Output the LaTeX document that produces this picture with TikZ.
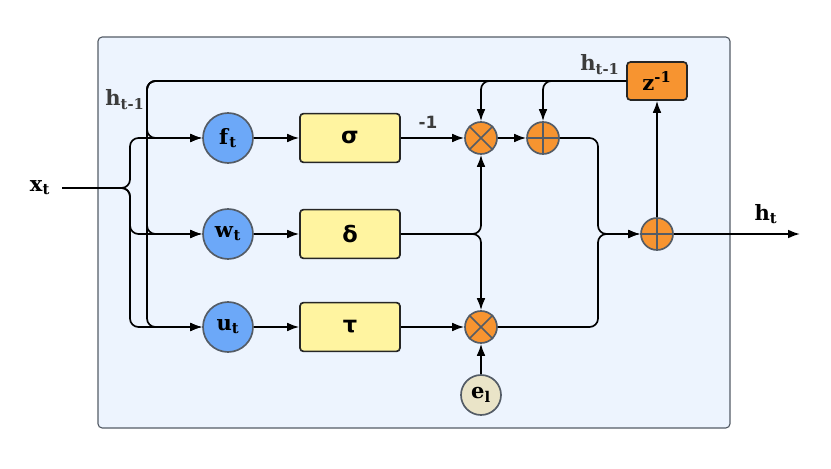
\documentclass[tikz,border=0pt]{standalone}
\usepackage{fontspec}
\setmainfont{DejaVu Serif}
\newfontfamily\gksans{DejaVu Sans}
\usetikzlibrary{arrows.meta,positioning}
\definecolor{gtframe}{RGB}{237,244,254}
\definecolor{gtedge}{RGB}{84,92,102}
\definecolor{gtblue}{RGB}{108,168,248}
\definecolor{gtyellow}{RGB}{255,244,160}
\definecolor{gtorange}{RGB}{247,148,48}
\definecolor{gtbeige}{RGB}{234,228,200}
\definecolor{gtink}{RGB}{60,60,60}
\newcommand{\gtsub}[2]{\textbf{#1}\textsubscript{\textbf{#2}}}
\tikzset{
  gtgate/.style={circle, draw=gtedge, fill=gtblue, line width=1.2pt,
    minimum size=1.25cm, inner sep=0pt, font=\fontsize{15}{17}\selectfont},
  gtbox/.style={draw=black!85, fill=gtyellow, rounded corners=2.5pt, line width=1.2pt,
    minimum width=2.5cm, minimum height=1.22cm, font=\gksans\bfseries\fontsize{16}{18}\selectfont},
  gtop/.style={circle, draw=gtedge, fill=gtorange, line width=1.2pt,
    minimum size=0.8cm, inner sep=0pt},
  gtlabel/.style={text=gtink, font=\fontsize{15}{17}\selectfont},
  gtarrow/.style={-{Latex[length=3mm,width=2.2mm]}, line width=1.2pt, rounded corners=6pt},
  gtline/.style={line width=1.2pt, rounded corners=6pt}
}

\begin{document}
\begin{tikzpicture}
  \useasboundingbox (0,0) rectangle (20.775,-11.725);
  \draw[gtedge, fill=gtframe, rounded corners=3pt, line width=0.8pt] (2.45,-0.925) rectangle (18.25,-10.7);
  % gates and blocks
  \node[gtgate] (gf) at (5.70,-3.45) {\gtsub{f}{t}};
  \node[gtgate] (gw) at (5.70,-5.85) {\gtsub{w}{t}};
  \node[gtgate] (gu) at (5.70,-8.175) {\gtsub{u}{t}};
  \node[gtbox] (bs) at (8.75,-3.45) {σ};
  \node[gtbox] (bd) at (8.75,-5.85) {δ};
  \node[gtbox] (bt) at (8.75,-8.175) {τ};
  \node[gtop] (m1) at (12.025,-3.45) {};
  \node[gtop] (a1) at (13.575,-3.45) {};
  \node[gtop] (m2) at (12.025,-8.175) {};
  \node[gtop] (af) at (16.425,-5.85) {};
  \node[circle, draw=gtedge, fill=gtbeige, line width=1.2pt, minimum size=1.0cm, inner sep=0pt,
    font=\fontsize{15}{17}\selectfont] (el) at (12.025,-9.875) {\gtsub{e}{l}};
  \node[draw=black!85, fill=gtorange, rounded corners=2.5pt, line width=1.2pt,
    minimum width=1.5cm, minimum height=0.95cm, font=\fontsize{15}{17}\selectfont] (dz) at (16.425,-2.025)
    {\textbf{z}\textsuperscript{\textbf{-1}}};
  \foreach \m in {m1,m2} {
    \draw[gtedge, line width=1.2pt] (\m.north east) -- (\m.south west) (\m.north west) -- (\m.south east);
  }
  \foreach \a in {a1,af} {
    \draw[gtedge, line width=1.2pt] (\a.north) -- (\a.south) (\a.west) -- (\a.east);
  }
  % labels
  \node[font=\fontsize{15}{17}\selectfont] (xin) at (1.0,-4.7) {\gtsub{x}{t}};
  \node[gtlabel] (lh1) at (3.125,-2.5) {\gtsub{h}{t-1}};
  \node[gtlabel] (lh2) at (15.0,-1.62) {\gtsub{h}{t-1}};
  \node[font=\fontsize{15}{17}\selectfont] (lht) at (19.15,-5.35) {\gtsub{h}{t}};
  \node[gtlabel, font=\gksans\bfseries\fontsize{12}{14}\selectfont] (lm) at (10.7,-3.05) {-1};
  \coordinate (xs) at (1.55,-4.7);
  \coordinate (hout) at (20.0,-5.85);
  % input x_t
  \draw[gtarrow] (xs) -- (3.25,-4.7) -- (3.25,-3.45) -- (gf);
  \draw[gtarrow] (xs) -- (3.25,-4.7) -- (3.25,-5.85) -- (gw);
  \draw[gtarrow] (xs) -- (3.25,-4.7) -- (3.25,-8.175) -- (gu);
  % feedback h_{t-1}
  \draw[gtarrow] (dz.west) -- (3.675,-2.025) -- (3.675,-3.45) -- (gf);
  \draw[gtarrow] (dz.west) -- (3.675,-2.025) -- (3.675,-5.85) -- (gw);
  \draw[gtarrow] (dz.west) -- (3.675,-2.025) -- (3.675,-8.175) -- (gu);
  \draw[gtarrow] (dz.west) -- (12.025,-2.025) -- (m1);
  \draw[gtarrow] (dz.west) -- (13.575,-2.025) -- (a1);
  % gates to blocks
  \draw[gtarrow] (gf) -- (bs);
  \draw[gtarrow] (gw) -- (bd);
  \draw[gtarrow] (gu) -- (bt);
  \draw[gtarrow] (bs) -- (m1);
  \draw[gtarrow] (bt) -- (m2);
  \draw[gtarrow] (bd) -- (12.025,-5.85) -- (m1);
  \draw[gtarrow] (bd) -- (12.025,-5.85) -- (m2);
  \draw[gtarrow] (el) -- (m2);
  \draw[gtarrow] (m1) -- (a1);
  % merge
  \draw[gtarrow] (a1) -- (14.95,-3.45) -- (14.95,-5.85) -- (af);
  \draw[gtarrow] (m2) -- (14.95,-8.175) -- (14.95,-5.85) -- (af);
  \draw[gtarrow] (af) -- (dz);
  \draw[gtarrow] (af) -- (hout);
\end{tikzpicture}
\end{document}
